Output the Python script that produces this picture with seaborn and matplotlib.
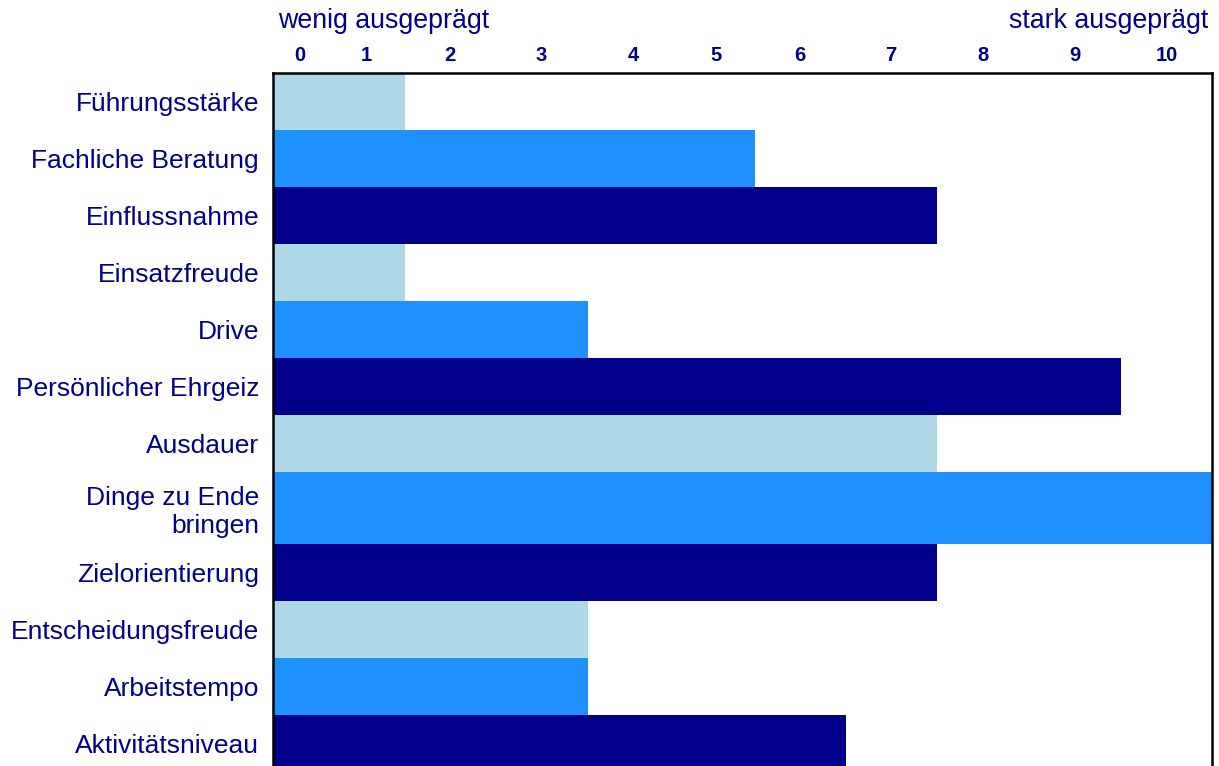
import matplotlib
matplotlib.use("Agg")
import matplotlib.pyplot as plt
import seaborn as sns
import pandas as pd
import numpy as np

categories = ["Führungsstärke", "Fachliche Beratung", "Einflussnahme", "Einsatzfreude",
              "Drive", "Persönlicher Ehrgeiz", "Ausdauer", "Dinge zu Ende\nbringen",
              "Zielorientierung", "Entscheidungsfreude", "Arbeitstempo", "Aktivitätsniveau"]
values = [1.48, 5.39, 7.43, 1.48, 3.52, 9.48, 7.43, 10.5, 7.43, 3.52, 3.52, 6.41]
tick_labels = ["0", "1", "2", "3", "4", "5", "6", "7", "8", "9", "10"]
tick_positions = [0.30, 1.04, 1.98, 3.0, 4.03, 4.95, 5.89, 6.91, 7.94, 8.97, 9.99]
label_low = "wenig ausgeprägt"
label_high = "stark ausgeprägt"

cycle = ["#ADD8E6", "#1E90FF", "#00008B"]
text_color = "#00008B"

sns.set_theme(style="white")
plt.rcParams["font.family"] = ["Liberation Sans", "DejaVu Sans"]

df = pd.DataFrame({"cat": categories, "val": values})
palette = {c: cycle[i % 3] for i, c in enumerate(categories)}

fig = plt.figure(figsize=(12.19, 7.66), dpi=100)
ax = fig.add_axes([273 / 1219, 0.0, (1212 - 273) / 1219, 1 - 73 / 766])

sns.barplot(data=df, y="cat", x="val", hue="cat", palette=palette, order=categories,
            hue_order=categories, width=1.0, legend=False, saturation=1, ax=ax,
            orient="h", errorbar=None)

# variable row heights: two-line labels get taller rows
weights = np.array([1.0 + 0.26 * (c.count("\n")) for c in categories])
tops = np.concatenate([[0], np.cumsum(weights)[:-1]])
for p, t, w in zip(ax.patches, tops, weights):
    p.set_y(t)
    p.set_height(w)
    p.set_linewidth(0)
centers = tops + weights / 2

ax.set_yticks(centers)
ax.set_yticklabels(categories, fontsize=19, color=text_color)
ax.set_ylim(693 / 57, 0)
ax.set_xlim(0, 10.5)
ax.xaxis.tick_top()
ax.set_xticks(tick_positions)
ax.set_xticklabels(tick_labels, fontsize=14.5, fontweight="bold", color=text_color)
ax.tick_params(axis="x", length=0, pad=6)
ax.tick_params(axis="y", length=0, pad=10)
ax.set_xlabel("")
ax.set_ylabel("")

for s in ["left", "top", "right"]:
    ax.spines[s].set_visible(True)
    ax.spines[s].set_color("black")
    ax.spines[s].set_linewidth(1.8)
ax.spines["bottom"].set_visible(False)

fig.text(278 / 1219, 1 - 21 / 766, label_low, fontsize=19.3, color=text_color,
         ha="left", va="center")
fig.text(1208 / 1219, 1 - 21 / 766, label_high, fontsize=19.3, color=text_color,
         ha="right", va="center")

fig.savefig("out.png", dpi=100)
